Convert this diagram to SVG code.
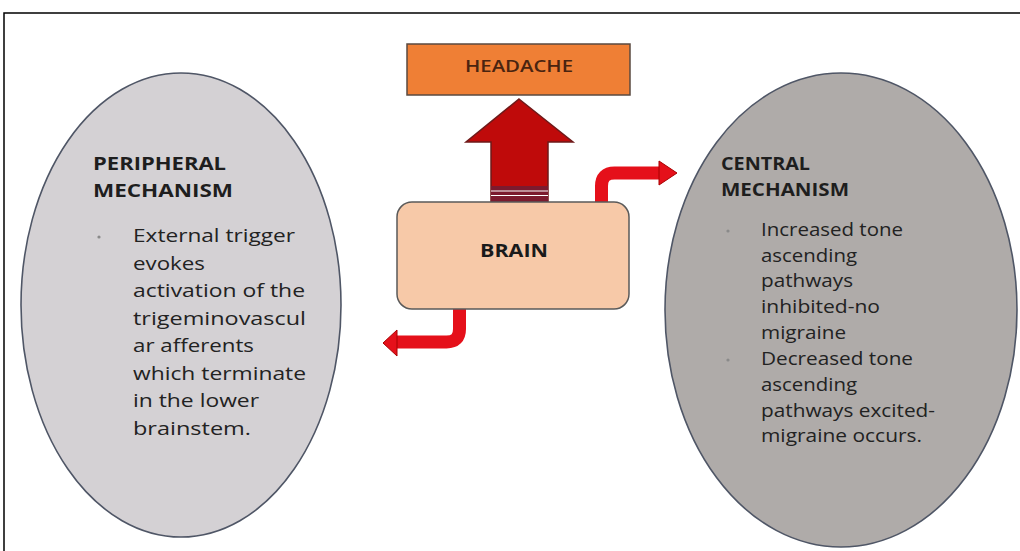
<svg xmlns="http://www.w3.org/2000/svg" width="1020" height="551" viewBox="0 0 1020 551">
<style>
.hdr{font-family:"Open Sans","Liberation Sans",sans-serif;font-weight:bold;font-size:17px;fill:#1e1e1e}
.body{font-family:"Open Sans","Liberation Sans",sans-serif;font-size:18px;fill:#222222}
.oval{stroke:#4f5666;stroke-width:1.6}
.bullet{fill:#8a8a8a}
.conn{fill:none;stroke:#e5101a;stroke-width:13}
.head{fill:#e5101a;stroke:#a80000;stroke-width:1}
</style>
<rect width="1020" height="551" fill="#ffffff"/>
<path d="M4,551 L4,13 L1020,13" fill="none" stroke="#000" stroke-width="1.5"/>

<g id="peripheral">
<ellipse class="oval" cx="181" cy="305" rx="160" ry="232" fill="#d4d1d4"/>
<text class="hdr" x="93" y="170" textLength="133" lengthAdjust="spacingAndGlyphs">PERIPHERAL</text>
<text class="hdr" x="93" y="197" textLength="140" lengthAdjust="spacingAndGlyphs">MECHANISM</text>
<circle class="bullet" cx="99" cy="237" r="1.6"/>
<text class="body" x="133" y="242" textLength="162" lengthAdjust="spacingAndGlyphs">External trigger</text>
<text class="body" x="133" y="269.5" textLength="72" lengthAdjust="spacingAndGlyphs">evokes</text>
<text class="body" x="133" y="297" textLength="172" lengthAdjust="spacingAndGlyphs">activation of the</text>
<text class="body" x="133" y="324.5" textLength="173" lengthAdjust="spacingAndGlyphs">trigeminovascul</text>
<text class="body" x="133" y="352" textLength="121" lengthAdjust="spacingAndGlyphs">ar afferents</text>
<text class="body" x="133" y="379.5" textLength="173" lengthAdjust="spacingAndGlyphs">which terminate</text>
<text class="body" x="133" y="407" textLength="126" lengthAdjust="spacingAndGlyphs">in the lower</text>
<text class="body" x="133" y="434.5" textLength="118" lengthAdjust="spacingAndGlyphs">brainstem.</text>
</g>

<g id="central">
<ellipse class="oval" cx="841" cy="310" rx="176" ry="237" fill="#afaba9"/>
<text class="hdr" x="721" y="170" textLength="89" lengthAdjust="spacingAndGlyphs">CENTRAL</text>
<text class="hdr" x="721" y="196" textLength="128" lengthAdjust="spacingAndGlyphs">MECHANISM</text>
<circle class="bullet" cx="728" cy="231" r="1.6"/>
<circle class="bullet" cx="728" cy="360" r="1.6"/>
<text class="body" x="761" y="236" textLength="142" lengthAdjust="spacingAndGlyphs">Increased tone</text>
<text class="body" x="761" y="262" textLength="96" lengthAdjust="spacingAndGlyphs">ascending</text>
<text class="body" x="761" y="287" textLength="92" lengthAdjust="spacingAndGlyphs">pathways</text>
<text class="body" x="761" y="313" textLength="119" lengthAdjust="spacingAndGlyphs">inhibited-no</text>
<text class="body" x="761" y="339" textLength="85" lengthAdjust="spacingAndGlyphs">migraine</text>
<text class="body" x="761" y="365" textLength="152" lengthAdjust="spacingAndGlyphs">Decreased tone</text>
<text class="body" x="761" y="391" textLength="96" lengthAdjust="spacingAndGlyphs">ascending</text>
<text class="body" x="761" y="417" textLength="174" lengthAdjust="spacingAndGlyphs">pathways excited-</text>
<text class="body" x="761" y="442" textLength="161" lengthAdjust="spacingAndGlyphs">migraine occurs.</text>
</g>

<g id="headache">
<rect x="407" y="44" width="223" height="51" fill="#ef7f35" stroke="#5a4a40" stroke-width="1.5"/>
<text x="519" y="72" text-anchor="middle" textLength="108" lengthAdjust="spacingAndGlyphs" style="font-family:'Open Sans','Liberation Sans',sans-serif;font-weight:600;font-size:17px;fill:#4a2410">HEADACHE</text>
</g>

<g id="connectors">
<polygon points="519,99 573,142 548,142 548,203 491,203 491,142 466,142" fill="#bf0a0a" stroke="#6e1a1a" stroke-width="1.5"/>
<rect x="491" y="186" width="57" height="18" fill="#7b1a2e"/>
<line x1="491" y1="191" x2="548" y2="191" stroke="#ffffff" stroke-width="1.2"/>
<line x1="491" y1="195.5" x2="548" y2="195.5" stroke="#ffffff" stroke-width="1.2"/>
<path class="conn" d="M601.5,204 L601.5,186 Q601.5,173 614.5,173 L660,173"/>
<polygon class="head" points="659,161 677,173 659,185"/>
<path class="conn" d="M459.5,308 L459.5,329 Q459.5,342 446.5,342 L396,342"/>
<polygon class="head" points="397,330 383,343 397,356"/>
</g>

<g id="brain">
<rect x="397" y="202" width="232" height="107" rx="15" ry="15" fill="#f7c9a8" stroke="#5a5a5a" stroke-width="1.5"/>
<text x="514" y="257" text-anchor="middle" textLength="68" lengthAdjust="spacingAndGlyphs" style="font-family:'Open Sans','Liberation Sans',sans-serif;font-weight:bold;font-size:18px;fill:#1a1a1a">BRAIN</text>
</g>
</svg>
